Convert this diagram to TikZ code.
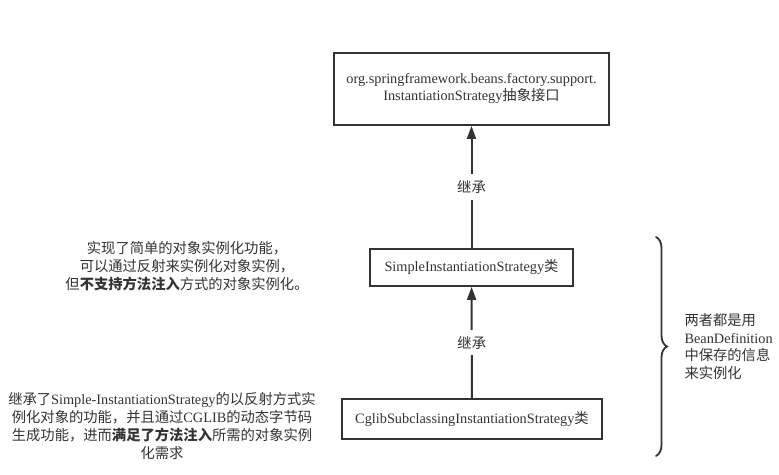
\documentclass[tikz,border=0pt]{standalone}
\usepackage{fontspec}
\setmainfont{Liberation Serif}
\newfontfamily\cjk{Noto Sans CJK SC}
\newcommand\cn[1]{{\cjk #1}}
\newcommand\cnb[1]{{\cjk\bfseries #1}}
\usetikzlibrary{arrows.meta,decorations.pathreplacing}
\definecolor{ink}{HTML}{333333}

\tikzset{
  cls/.style={draw=ink, line width=1.8pt, text=ink, minimum height=#1, inner xsep=8pt},
  inherit/.style={draw=ink, line width=2pt, -{Triangle[length=13pt,width=9pt]}},
  note/.style={text=ink, align=center, font=\fontsize{14.3}{18}\selectfont},
}

\begin{document}
\begin{tikzpicture}[x=1pt, y=-1pt, font=\fontsize{14.3}{17}\selectfont]
  \useasboundingbox (0,0) rectangle (779,474);

  \node[cls=72pt, minimum width=275pt, align=center] (iface) at (471.5,89)
    {org.springframework.beans.factory.support.\\InstantiationStrategy\cn{抽象接口}};
  \node[cls=37pt, minimum width=203pt] (simple) at (471.5,267.5)
    {SimpleInstantiationStrategy\cn{类}};
  \node[cls=40pt, minimum width=260pt] (cglib) at (472,419)
    {CglibSubclassingInstantiationStrategy\cn{类}};

  \draw[inherit] (simple) -- node[fill=white, text=ink, inner ysep=6pt] (inh1) {\cn{继承}} (iface);
  \draw[inherit] (cglib) -- node[fill=white, text=ink, inner ysep=6pt] (inh2) {\cn{继承}} (simple);

  \node[note] (note1) at (187,266.5)
    {\cn{实现了简单的对象实例化功能，}\\
     \cn{可以通过反射来实例化对象实例，}\\
     \cn{但}\cnb{不支持方法注入}\cn{方式的对象实例化。}};

  \node[note] (note2) at (162,426.5)
    {\cn{继承了}Simple-InstantiationStrategy\cn{的以反射方式实}\\
     \cn{例化对象的功能，并且通过}CGLIB\cn{的动态字节码}\\
     \cn{生成功能，进而}\cnb{满足了方法注入}\cn{所需的对象实例}\\
     \cn{化需求}};

  \coordinate (btop) at (656,237);
  \coordinate (bbot) at (656,456);
  \draw[draw=ink, line width=1.8pt, line cap=round,
        decoration={brace, amplitude=11pt, aspect=0.5}, decorate] (btop) -- (bbot);

  \node[note, align=left, anchor=west, font=\fontsize{14.3}{17.5}\selectfont] (both) at (681,346.5)
    {\cn{两者都是用}\\BeanDefinition\\\cn{中保存的信息}\\\cn{来实例化}};
\end{tikzpicture}
\end{document}
